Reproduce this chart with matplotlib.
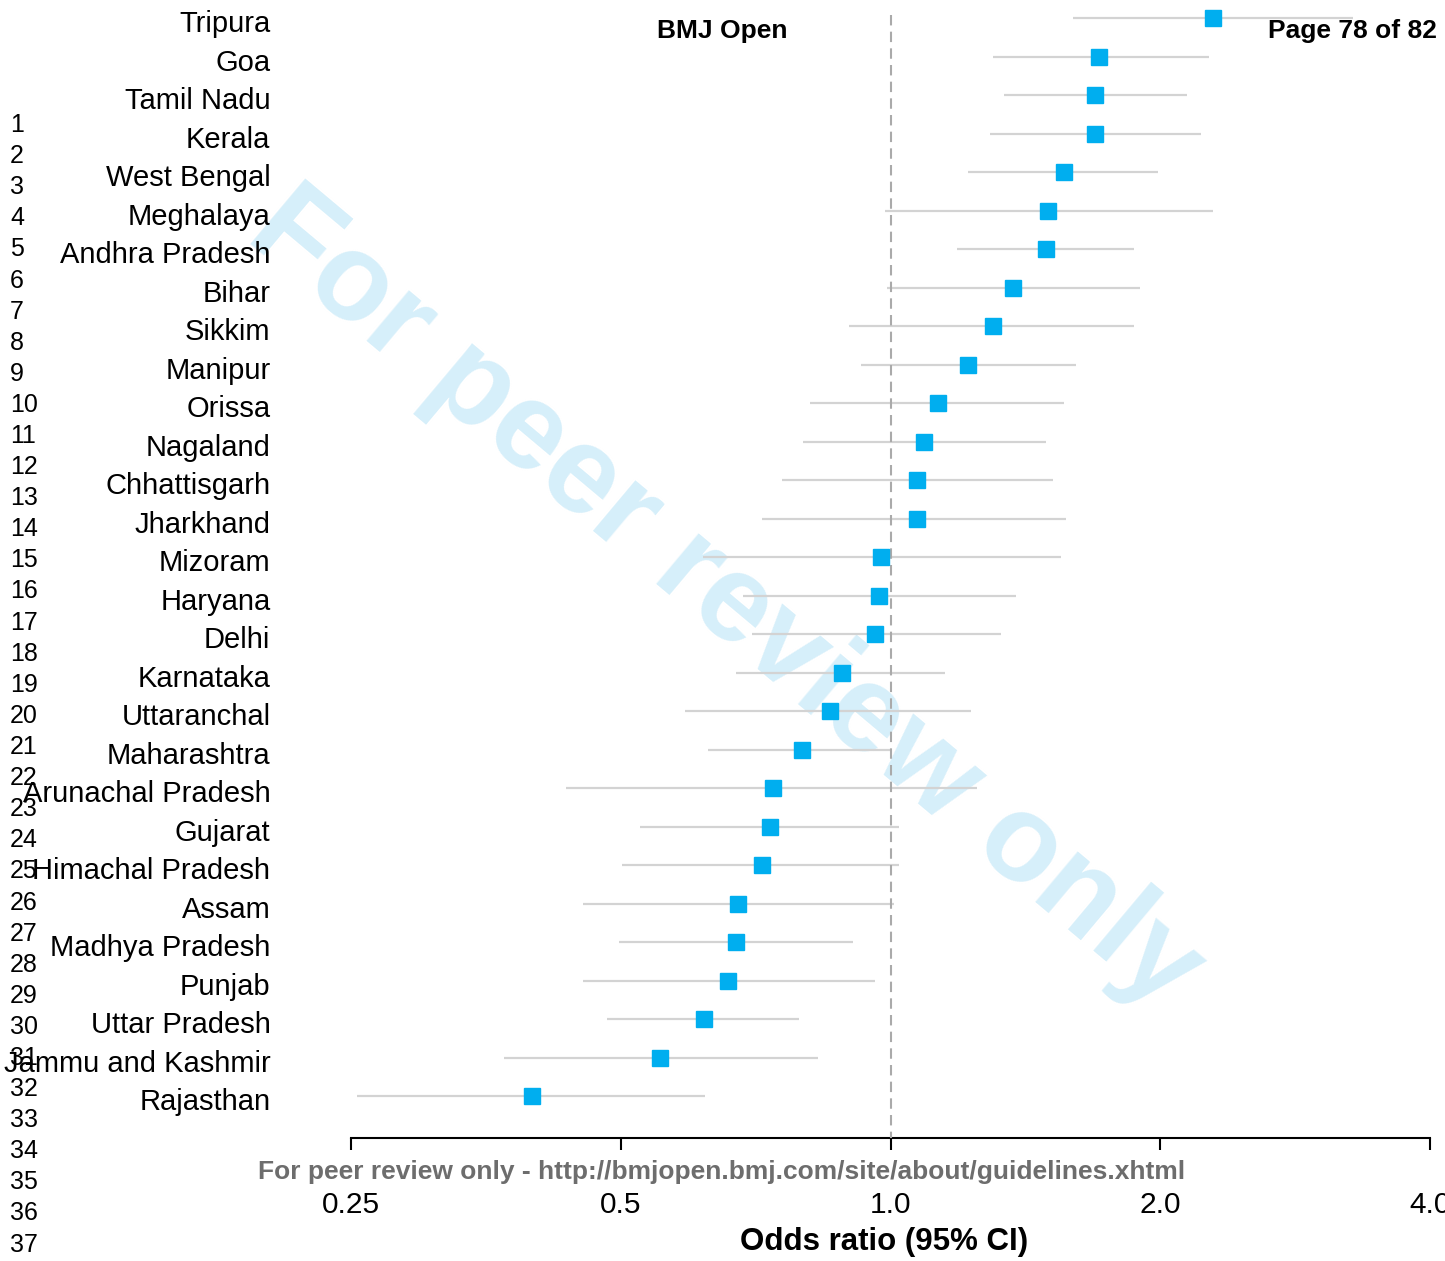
import matplotlib
matplotlib.use('Agg')
import matplotlib.pyplot as plt
import matplotlib.transforms as mtransforms
import numpy as np

plt.rcParams['font.family'] = ['Liberation Sans', 'DejaVu Sans']

# Estados (de cima para baixo), OR e IC 95%
states = ['Tripura', 'Goa', 'Tamil Nadu', 'Kerala', 'West Bengal', 'Meghalaya',
          'Andhra Pradesh', 'Bihar', 'Sikkim', 'Manipur', 'Orissa', 'Nagaland',
          'Chhattisgarh', 'Jharkhand', 'Mizoram', 'Haryana', 'Delhi', 'Karnataka',
          'Uttaranchal', 'Maharashtra', 'Arunachal Pradesh', 'Gujarat',
          'Himachal Pradesh', 'Assam', 'Madhya Pradesh', 'Punjab', 'Uttar Pradesh',
          'Jammu and Kashmir', 'Rajasthan']
odds = [2.29, 1.71, 1.69, 1.69, 1.56, 1.50, 1.49, 1.37, 1.30, 1.22, 1.13, 1.09,
        1.07, 1.07, 0.975, 0.972, 0.962, 0.882, 0.855, 0.796, 0.740, 0.733,
        0.718, 0.676, 0.673, 0.659, 0.619, 0.553, 0.398]
ci_low = [1.60, 1.30, 1.34, 1.29, 1.22, 0.985, 1.185, 0.99, 0.898, 0.926, 0.814,
          0.798, 0.757, 0.719, 0.618, 0.684, 0.701, 0.673, 0.589, 0.626, 0.434,
          0.526, 0.502, 0.454, 0.498, 0.454, 0.483, 0.370, 0.254]
ci_high = [3.28, 2.265, 2.14, 2.22, 1.99, 2.29, 1.87, 1.90, 1.87, 1.61, 1.56,
           1.49, 1.52, 1.57, 1.55, 1.38, 1.33, 1.15, 1.23, 1.00, 1.25, 1.023,
           1.023, 1.008, 0.909, 0.962, 0.791, 0.829, 0.621]

xticks = [0.25, 0.5, 1.0, 2.0, 4.0]
xtick_labels = ['0.25', '0.5', '1.0', '2.0', '4.0']
line_numbers = list(range(1, 38))

W, H = 1445, 1261
fig = plt.figure(figsize=(W / 100, H / 100), dpi=100)

# Eixo principal (posição em pixels da referência)
ax = fig.add_axes([351 / W, (H - 1138) / H, (1430 - 351) / W, 1138 / H])
ax.patch.set_alpha(0)
ax.set_zorder(1)

# Marca d'água por trás de tudo
fig.text(725 / W, 1 - 600 / H, 'For peer review only', fontsize=89,
         fontweight='bold', color='#d6effa', rotation=-40,
         ha='center', va='center', zorder=0)

y = np.arange(len(states))
ax.hlines(y, ci_low, ci_high, color='#d3d3d3', lw=1.6, zorder=2)
ax.plot(odds, y, 's', color='#00aeef', markersize=12, zorder=4)

row_h = 38.5
ax.set_ylim((1138 - 18) / row_h, -18 / row_h)
ax.vlines(1.0, -3 / row_h, (1138 - 18) / row_h, color='#aaaaaa', lw=1.5,
          linestyles=(0, (5, 3)), zorder=3)

ax.set_xscale('log', base=2)
ax.set_xlim(0.25, 4.0)
ax.set_xticks(xticks)
ax.set_xticklabels(xtick_labels)
ax.minorticks_off()
ax.tick_params(axis='x', direction='out', length=8.6, width=1.5, pad=29.5,
               labelsize=21.5)

ax.set_yticks(y)
ax.set_yticklabels(states)
ax.tick_params(axis='y', length=0, pad=58, labelsize=21)
# rótulos um pouco abaixo do centro da linha, como na referência
shift = mtransforms.ScaledTranslation(0, -3 / 100, fig.dpi_scale_trans)
for lbl in ax.get_yticklabels():
    lbl.set_transform(lbl.get_transform() + shift)

for s in ['top', 'right', 'left']:
    ax.spines[s].set_visible(False)
ax.spines['bottom'].set_linewidth(1.5)

# Textos da página
fig.text(884 / W, 1 - 1242 / H, 'Odds ratio (95% CI)', fontsize=22.5,
         fontweight='bold', ha='center', va='center')
fig.text(722 / W, 1 - 31 / H, 'BMJ Open', fontsize=19, fontweight='bold',
         ha='center', va='center')
fig.text(1437 / W, 1 - 31 / H, 'Page 78 of 82', fontsize=19, fontweight='bold',
         ha='right', va='center')
fig.text(722 / W, 1 - 1172 / H,
         'For peer review only - http://bmjopen.bmj.com/site/about/guidelines.xhtml',
         fontsize=19, fontweight='bold', color='#6d6d6d', ha='center', va='center')

for k in line_numbers:
    fig.text(10 / W, 1 - (125 + 31.1 * (k - 1)) / H, str(k), fontsize=18,
             ha='left', va='center')

plt.savefig('out.png', dpi=100)
plt.close()
